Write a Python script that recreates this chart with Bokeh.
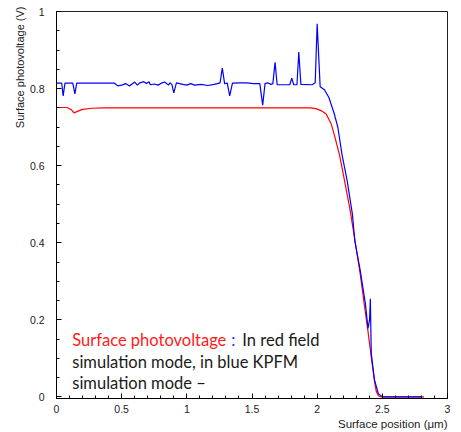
import math
from bokeh.plotting import figure
from bokeh.models import FixedTicker, Label, Range1d, Title
from bokeh.embed import file_html
from bokeh.resources import INLINE

# ---- data ----
red_x = [0.0, 0.08, 0.115, 0.135, 0.16, 0.20, 0.27, 0.36, 1.95, 1.99, 2.03, 2.069, 2.108,
         2.13, 2.17, 2.20, 2.25, 2.29, 2.33, 2.364, 2.39, 2.415, 2.44, 2.454, 2.47, 2.49, 2.6, 2.82]
red_y = [0.751, 0.751, 0.745, 0.737, 0.741, 0.746, 0.749, 0.750, 0.750, 0.748, 0.743, 0.734, 0.708,
         0.682, 0.63, 0.579, 0.49, 0.406, 0.32, 0.234, 0.17, 0.104, 0.04, 0.014, 0.003, 0.0, 0.0, 0.0]

blue_x = [0.0, 0.04, 0.051, 0.065, 0.125, 0.141, 0.155, 0.445, 0.47, 0.50, 0.53, 0.56, 0.60, 0.62,
          0.64, 0.67, 0.69, 0.71, 0.72, 0.75, 0.78, 0.81, 0.83, 0.86, 0.87, 0.885, 0.90, 0.92,
          0.97, 1.0, 1.03, 1.06, 1.11, 1.16, 1.21, 1.255, 1.272, 1.29, 1.31, 1.329, 1.35, 1.41,
          1.46, 1.51, 1.56, 1.582, 1.60, 1.62, 1.645, 1.66, 1.677, 1.693, 1.79, 1.805, 1.82,
          1.845, 1.859, 1.875, 1.96, 1.985, 2.0, 2.023, 2.056, 2.09, 2.13, 2.159, 2.19, 2.23,
          2.27, 2.29, 2.33, 2.37, 2.39, 2.402, 2.408, 2.415, 2.44, 2.47, 2.505, 2.805]
blue_y = [0.814, 0.814, 0.781, 0.814, 0.814, 0.786, 0.814, 0.814, 0.807, 0.809, 0.813, 0.807,
          0.817, 0.809, 0.815, 0.818, 0.813, 0.818, 0.810, 0.812, 0.809, 0.815, 0.817, 0.809,
          0.815, 0.811, 0.789, 0.815, 0.811, 0.809, 0.813, 0.809, 0.811, 0.808, 0.811, 0.815,
          0.853, 0.813, 0.814, 0.781, 0.814, 0.815, 0.815, 0.813, 0.813, 0.757, 0.813, 0.815,
          0.811, 0.813, 0.868, 0.810, 0.810, 0.827, 0.810, 0.810, 0.895, 0.811, 0.810, 0.815,
          0.968, 0.805, 0.797, 0.777, 0.736, 0.699, 0.63, 0.561, 0.475, 0.402, 0.329, 0.242,
          0.178, 0.20, 0.255, 0.113, 0.044, 0.008, 0.0, 0.0]

x_ticks = [0, 0.5, 1, 1.5, 2, 2.5, 3]
x_tick_labels = ["0", "0.5", "1", "1.5", "2", "2.5", "3"]
y_ticks = [0, 0.2, 0.4, 0.6, 0.8, 1.0]
y_tick_labels = ["0", "0.2", "0.4", "0.6", "0.8", "1"]

x_title = "Surface position (\u03bcm)"
y_title = "Surface photovoltage (V)"
note_red = "Surface photovoltage"
note_blue = ":"
note_line1 = "In red field"
note_line2 = "simulation mode, in blue KPFM"
note_line3 = "simulation mode \u2013"

# ---- figure ----
p = figure(width=455, height=430, output_backend="svg", toolbar_location=None,
           x_range=Range1d(0, 3), y_range=Range1d(-0.004, 1.0),
           min_border_left=56, min_border_right=8, min_border_top=11, min_border_bottom=32)
p.grid.visible = False
p.outline_line_color = "#222222"
p.outline_line_width = 1
p.background_fill_color = "white"
p.border_fill_color = "white"

p.xaxis.ticker = FixedTicker(ticks=x_ticks, minor_ticks=[i / 10 for i in range(31)])
p.yaxis.ticker = FixedTicker(ticks=y_ticks, minor_ticks=[i / 20 for i in range(21)])
p.xaxis.major_label_overrides = {t: l for t, l in zip(x_ticks, x_tick_labels)}
p.yaxis.major_label_overrides = {t: l for t, l in zip(y_ticks, y_tick_labels)}

for ax in (p.xaxis, p.yaxis):
    ax.axis_line_color = "black"
    ax.major_tick_line_color = "black"
    ax.minor_tick_line_color = "black"
    ax.major_tick_in = 5
    ax.major_tick_out = 0
    ax.minor_tick_in = 3
    ax.minor_tick_out = 0
    ax.major_label_text_font = "Liberation Sans"
    ax.major_label_text_font_size = "10.5px"
    ax.major_label_text_color = "#222222"
p.yaxis.major_label_standoff = 12
p.xaxis.major_label_standoff = 6

p.line(red_x, red_y, line_color="#ff0000", line_width=1.2)
p.line(blue_x, blue_y, line_color="#0000ff", line_width=1.2)

# axis titles (ROOT style: right / top aligned)
p.add_layout(Title(text=x_title, align="right", text_font="Liberation Sans",
                   text_font_size="11.5px", text_font_style="normal", text_color="#222222",
                   standoff=0), "below")
p.add_layout(Title(text=y_title, align="right", text_font="Liberation Sans",
                   text_font_size="11px", text_font_style="normal", text_color="#222222",
                   standoff=2, offset=-5), "left")

# annotation text
fnt = "Lato"
fs = "16.5px"
p.add_layout(Label(x=0.121, y=0.1475, text=note_red, text_align="left", text_baseline="middle",
                   text_font=fnt, text_font_size=fs, text_color="#ff1a1a"))
p.add_layout(Label(x=1.34, y=0.1475, text=note_blue, text_align="left", text_baseline="middle",
                   text_font=fnt, text_font_size=fs, text_color="#2a2aff"))
p.add_layout(Label(x=1.426, y=0.1475, text=note_line1, text_align="left", text_baseline="middle",
                   text_font=fnt, text_font_size=fs, text_color="#1a1a1a"))
p.add_layout(Label(x=0.121, y=0.0915, text=note_line2, text_align="left", text_baseline="middle",
                   text_font=fnt, text_font_size=fs, text_color="#1a1a1a"))
p.add_layout(Label(x=0.121, y=0.0355, text=note_line3, text_align="left", text_baseline="middle",
                   text_font=fnt, text_font_size=fs, text_color="#1a1a1a"))

open("out.html", "w").write(file_html(p, INLINE))
